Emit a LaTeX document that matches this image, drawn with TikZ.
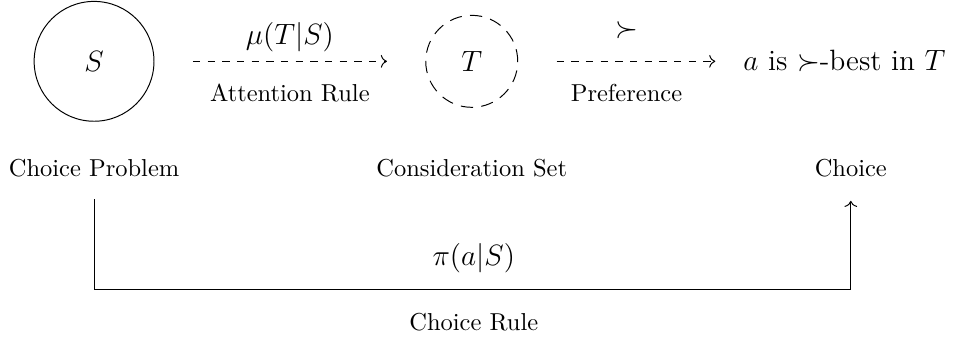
\documentclass[tikz,border=0pt]{standalone}
\usepackage{amsmath}
\usepackage{amssymb}
\usepackage{tikz}
\usetikzlibrary{arrows.meta,positioning,calc}

\begin{document}
\begin{tikzpicture}[>=To,
  state/.style={draw, circle, inner sep=0pt, font=\large},
  lbl/.style={font=\normalsize, align=center},
  rule/.style={draw, dashed, ->, shorten <=0.55cm, shorten >=0.55cm}]
\useasboundingbox (0,0) rectangle (13.72,-4.835);
\node[state, minimum size=1.72cm] (S) at (1.35,-0.88) {$S$};
\node[state, dash pattern=on 5pt off 3.4pt, minimum size=1.32cm] (T) at (6.77,-0.88) {$T$};
\node[font=\large] (best) at (12.12,-0.88) {$a$ is $\succ$-best in $T$};
\node[lbl] (cp) at (1.35,-2.41) {Choice Problem};
\node[lbl] (cs) at (6.77,-2.41) {Consideration Set};
\node[lbl] (ch) at (12.21,-2.41) {Choice};
\draw[rule] (S) -- node[above=0.01cm, font=\large] (mu) {$\mu(T|S)$} node[below=0.2cm, lbl] (att) {Attention Rule} (T);
\draw[rule, shorten >=0.28cm] (T) -- node[above=0.2cm, font=\large] (pref) {$\succ$} node[below=0.2cm, lbl] (prl) {Preference} (best);
\coordinate (low) at (6.8,-4.16);
\draw[->, shorten <=0.2cm, shorten >=0.22cm] (cp.south) -- (cp.south |- low) -| (ch.south);
\node[font=\large] (pi) at (6.8,-3.7) {$\pi(a|S)$};
\node[lbl] (cr) at (6.8,-4.62) {Choice Rule};
\end{tikzpicture}
\end{document}
